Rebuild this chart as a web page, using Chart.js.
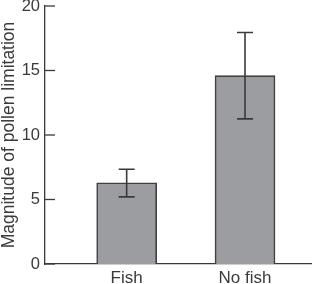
<!DOCTYPE html>
<html lang="en">
<head>
    <meta charset="UTF-8">
    <title>Magnitude of pollen limitation</title>
    <style>
        html, body { margin: 0; padding: 0; background: #fff; }
        #wrap { width: 312px; height: 284px; }
    </style>
    <script src="https://cdn.jsdelivr.net/npm/chart.js"></script>
</head>
<body>
    <div id="wrap"><canvas id="pollenChart" width="312" height="284"></canvas></div>
    <script>
        // values
        const categories = ['Fish', 'No fish'];
        const means = [6.3, 14.6];
        const errLow = [5.2, 11.25];
        const errHigh = [7.35, 17.95];
        const yTicks = [0, 5, 10, 15, 20];

        const ink = '#3a3a3a';

        // error bars + inward y ticks, drawn through the scales
        const extras = {
            id: 'extras',
            afterDatasetsDraw(chart) {
                const ctx = chart.ctx;
                const xs = chart.scales.x, ys = chart.scales.y;
                ctx.save();
                ctx.strokeStyle = ink;
                ctx.lineWidth = 1.6;
                categories.forEach((c, i) => {
                    const x = xs.getPixelForValue(i + 1);
                    const top = ys.getPixelForValue(errHigh[i]);
                    const bot = ys.getPixelForValue(errLow[i]);
                    ctx.beginPath();
                    ctx.moveTo(x, top); ctx.lineTo(x, bot);
                    ctx.moveTo(x - 8, top); ctx.lineTo(x + 8, top);
                    ctx.moveTo(x - 8, bot); ctx.lineTo(x + 8, bot);
                    ctx.stroke();
                });
                ctx.lineWidth = 1.3;
                yTicks.forEach(v => {
                    const y = ys.getPixelForValue(v);
                    ctx.beginPath();
                    ctx.moveTo(chart.chartArea.left, y);
                    ctx.lineTo(chart.chartArea.left + 10, y);
                    ctx.stroke();
                });
                ctx.restore();
            }
        };

        const ctx = document.getElementById('pollenChart').getContext('2d');
        new Chart(ctx, {
            type: 'bar',
            data: {
                datasets: [{
                    data: means.map((v, i) => ({ x: i + 1, y: v })),
                    backgroundColor: '#9c9da0',
                    borderColor: '#404040',
                    borderWidth: 1.6,
                    borderSkipped: 'bottom',
                    barThickness: 60
                }]
            },
            options: {
                responsive: false,
                animation: false,
                layout: { padding: { top: 6, right: 0, left: 0, bottom: 0 } },
                plugins: { legend: { display: false }, tooltip: { enabled: false } },
                scales: {
                    x: {
                        type: 'linear',
                        offset: false,
                        min: 0.31,
                        max: 2.566,
                        grid: { display: false, drawTicks: false },
                        border: { display: true, color: ink, width: 1.3 },
                        afterBuildTicks(scale) {
                            scale.ticks = categories.map((c, i) => ({ value: i + 1 }));
                        },
                        afterFit(scale) {
                            scale.height = 20;
                            scale.paddingLeft = 0;
                            scale.paddingRight = 0;
                        },
                        ticks: {
                            autoSkip: false,
                            maxRotation: 0,
                            padding: 4,
                            color: ink,
                            font: { family: 'Liberation Sans', size: 17 },
                            callback: (v) => categories[v - 1]
                        }
                    },
                    y: {
                        min: 0,
                        max: 20,
                        grid: { display: false, drawTicks: false },
                        border: { display: true, color: ink, width: 1.3 },
                        afterBuildTicks(scale) {
                            scale.ticks = yTicks.map(v => ({ value: v }));
                        },
                        afterFit(scale) {
                            scale.width = 45;
                            scale.paddingTop = 0;
                            scale.paddingBottom = 0;
                        },
                        ticks: {
                            padding: 5,
                            color: ink,
                            font: { family: 'Liberation Sans', size: 16.5 }
                        },
                        title: {
                            display: true,
                            text: 'Magnitude of pollen limitation',
                            color: ink,
                            font: { family: 'Liberation Sans', size: 17.5 },
                            padding: { top: -1, bottom: 0 }
                        }
                    }
                }
            },
            plugins: [extras]
        });
    </script>
</body>
</html>
